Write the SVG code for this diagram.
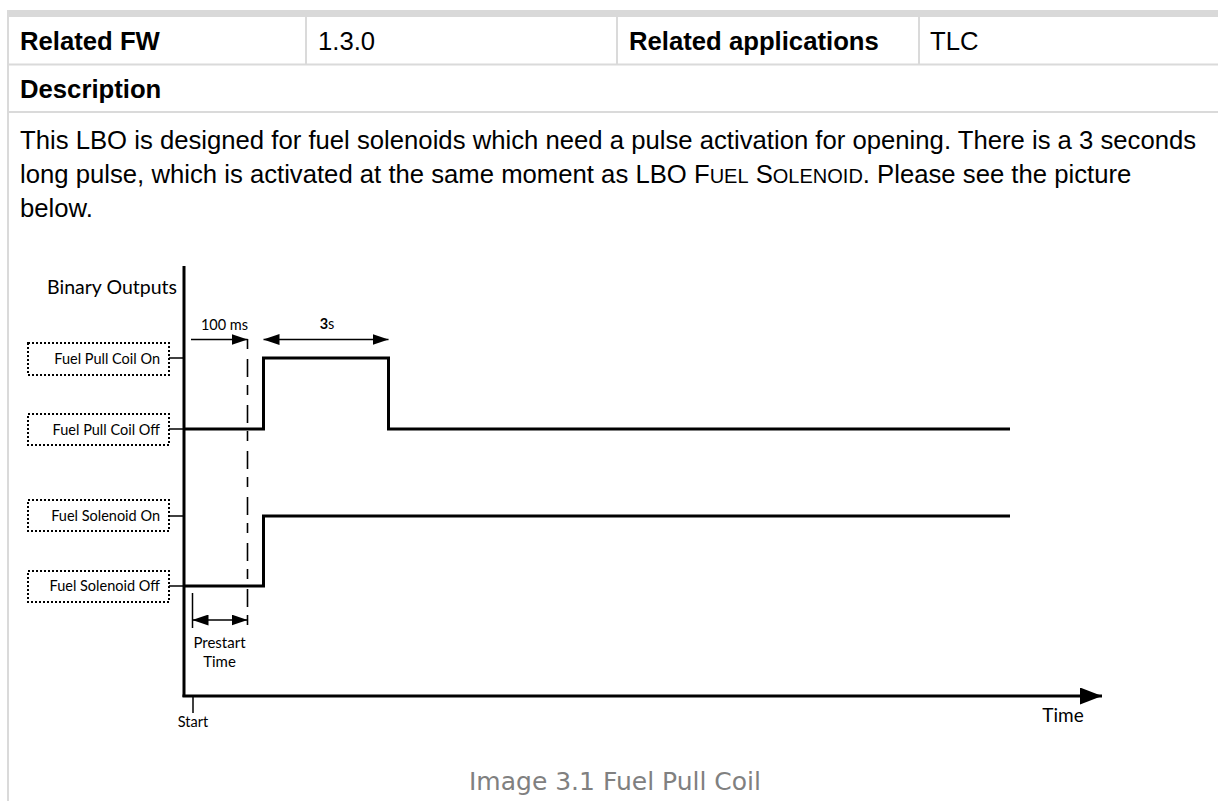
<svg xmlns="http://www.w3.org/2000/svg" width="1218" height="801" viewBox="0 0 1218 801">
<style>
.tb{font-family:"Liberation Sans",Arial,sans-serif;font-size:25.7px;fill:#000}
.b{font-weight:bold}
.grid{stroke:#dadada;stroke-width:2;fill:none}
.lbl{font-family:Lato,"Open Sans",sans-serif;fill:#000}
.box{fill:#fff;stroke:#000;stroke-width:2;stroke-dasharray:2 2}
.sig{fill:none;stroke:#000;stroke-width:3;stroke-linejoin:miter}
.thin{fill:none;stroke:#000;stroke-width:1.5}
.cap{font-family:"DejaVu Sans",Verdana,sans-serif;font-size:25px;fill:#808080}
</style>
<defs>
<marker id="arr" viewBox="0 0 16 11" refX="16" refY="5.5" markerUnits="userSpaceOnUse" markerWidth="16" markerHeight="11" orient="auto-start-reverse"><path d="M0,0 L16,5.5 L0,11 Z" fill="#000"/></marker>
<marker id="axarr" viewBox="0 0 22 17" refX="22" refY="8.5" markerUnits="userSpaceOnUse" markerWidth="22" markerHeight="17" orient="auto"><path d="M0,0 L22,8.5 L0,17 Z" fill="#000"/></marker>
</defs>
<rect width="1218" height="801" fill="#fff"/>
<g id="table">
<rect x="8" y="10" width="1210" height="7" fill="#d9d9d9"/>
<line class="grid" x1="8" y1="10" x2="8" y2="801"/>
<line class="grid" x1="8" y1="64.5" x2="1218" y2="64.5"/>
<line class="grid" x1="8" y1="112" x2="1218" y2="112"/>
<line class="grid" x1="306" y1="17" x2="306" y2="64"/>
<line class="grid" x1="617" y1="17" x2="617" y2="64"/>
<line class="grid" x1="919" y1="17" x2="919" y2="64"/>
<text class="tb b" x="20" y="50">Related FW</text>
<text class="tb" x="318" y="50">1.3.0</text>
<text class="tb b" x="629" y="50">Related applications</text>
<text class="tb" x="930" y="50">TLC</text>
<text class="tb b" x="20" y="98">Description</text>
<text class="tb" x="20" y="149">This LBO is designed for fuel solenoids which need a pulse activation for opening. There is a 3 seconds</text>
<text class="tb" x="20" y="183">long pulse, which is activated at the same moment as LBO F<tspan font-size="20px">UEL</tspan> S<tspan font-size="20px">OLENOID</tspan>. Please see the picture</text>
<text class="tb" x="20" y="217">below.</text>
</g>
<text class="lbl" x="177" y="294" font-size="19.5" text-anchor="end">Binary Outputs</text>
<g id="box-pull-on">
<rect class="box" x="28" y="343" width="141" height="32"/>
<text class="lbl" x="160" y="364" font-size="14.5" text-anchor="end">Fuel Pull Coil On</text>
</g>
<g id="box-pull-off">
<rect class="box" x="28" y="414" width="141" height="31"/>
<text class="lbl" x="160" y="434.5" font-size="14.5" text-anchor="end">Fuel Pull Coil Off</text>
</g>
<g id="box-sol-on">
<rect class="box" x="28" y="500" width="141" height="31"/>
<text class="lbl" x="160" y="521" font-size="14.5" text-anchor="end">Fuel Solenoid On</text>
</g>
<g id="box-sol-off">
<rect class="box" x="28" y="571" width="141" height="31"/>
<text class="lbl" x="160" y="591" font-size="14.5" text-anchor="end">Fuel Solenoid Off</text>
</g>
<g id="connectors">
<line x1="184" y1="266" x2="184" y2="697" stroke="#000" stroke-width="3"/>
<line x1="182.5" y1="696" x2="1102" y2="696" stroke="#000" stroke-width="3" marker-end="url(#axarr)"/>
<line class="thin" x1="193" y1="696" x2="193" y2="713"/>
<line class="thin" x1="169" y1="358" x2="184" y2="358"/>
<line class="thin" x1="169" y1="429" x2="184" y2="429"/>
<line class="thin" x1="169" y1="516" x2="184" y2="516"/>
<line class="thin" x1="169" y1="586" x2="184" y2="586"/>
<path class="sig" d="M184,429 H263.5 V358 H388.5 V429 H1010"/>
<path class="sig" d="M184,586 H263.5 V516 H1010"/>
<line x1="247.5" y1="339" x2="247.5" y2="628" stroke="#000" stroke-width="1.6" stroke-dasharray="10 10 18 8"/>
<line class="thin" x1="192.5" y1="593" x2="192.5" y2="628"/>
<line class="thin" x1="191" y1="339.5" x2="247.5" y2="339.5" marker-end="url(#arr)"/>
<line class="thin" x1="263.5" y1="339.5" x2="388.5" y2="339.5" marker-start="url(#arr)" marker-end="url(#arr)"/>
<line class="thin" x1="192.5" y1="620" x2="247.5" y2="620" marker-start="url(#arr)" marker-end="url(#arr)"/>
</g>
<text class="lbl" x="224.5" y="330" font-size="14.5" text-anchor="middle">100 ms</text>
<text class="lbl" x="327" y="329" font-size="14.5" text-anchor="middle"><tspan font-weight="bold">3</tspan>s</text>
<text class="lbl" x="219.5" y="648" font-size="15" text-anchor="middle">Prestart</text>
<text class="lbl" x="219.5" y="667" font-size="15" text-anchor="middle">Time</text>
<text class="lbl" x="193" y="727" font-size="14.5" text-anchor="middle">Start</text>
<text class="lbl" x="1063" y="722" font-size="19" text-anchor="middle">Time</text>
<text class="cap" x="615" y="790" text-anchor="middle">Image 3.1 Fuel Pull Coil</text>
</svg>
